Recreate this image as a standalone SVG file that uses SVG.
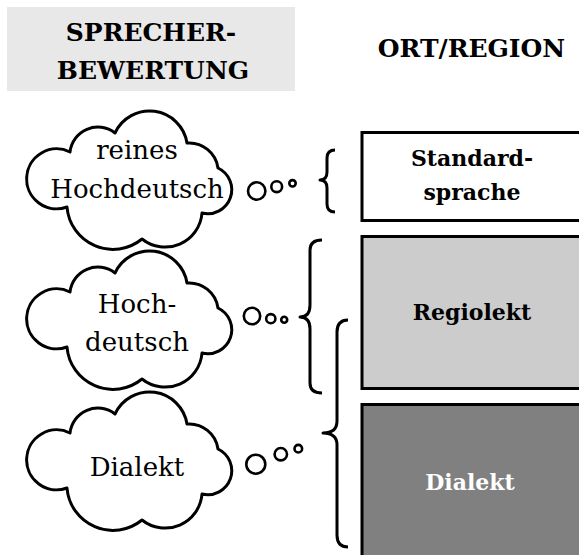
<svg xmlns="http://www.w3.org/2000/svg" xmlns:xlink="http://www.w3.org/1999/xlink" width="579" height="555" viewBox="0 0 579 555">
<style>
.hdr{font-family:"DejaVu Serif","Liberation Serif",serif;font-weight:bold;font-size:25px;fill:#000;text-anchor:middle}
.cl{font-family:"DejaVu Serif","Liberation Serif",serif;font-size:26px;fill:#000;text-anchor:middle}
.bx{font-family:"DejaVu Serif","Liberation Serif",serif;font-weight:bold;font-size:22px;text-anchor:middle}
.cloud{fill:#fff;stroke:#000;stroke-width:3;stroke-linejoin:round}
.bub{fill:none;stroke:#000;stroke-width:2.6}
.brace{fill:none;stroke:#000;stroke-width:3;stroke-linecap:butt;stroke-linejoin:round}
.box{stroke:#000;stroke-width:3}
</style>
<defs>
<path id="cloudShape" d="M42,40 A28,28 0 0 1 87,21 A38,38 0 0 1 159,31 A29,29 0 0 1 190,56 A24,24 0 0 1 174,101 A37,37 0 0 1 114,127 A46,46 0 0 1 39,95 A30,30 0 1 1 42,40 Z"/>
</defs>

<g id="header-left">
<rect x="7" y="7" width="288" height="84" fill="#e8e8e8"/>
<text class="hdr" x="151" y="41">SPRECHER-</text>
<text class="hdr" x="153" y="79">BEWERTUNG</text>
</g>
<g id="header-right">
<text class="hdr" x="471.5" y="57">ORT/REGION</text>
</g>

<g id="cloud1">
<use xlink:href="#cloudShape" class="cloud" transform="translate(28,112)"/>
<text class="cl" x="137" y="159">reines</text>
<text class="cl" x="137" y="198">Hochdeutsch</text>
</g>
<g id="cloud2">
<use xlink:href="#cloudShape" class="cloud" transform="translate(28,252)"/>
<text class="cl" x="137" y="313">Hoch-</text>
<text class="cl" x="137" y="351">deutsch</text>
</g>
<g id="cloud3">
<use xlink:href="#cloudShape" class="cloud" transform="translate(28,393)"/>
<text class="cl" x="137" y="476">Dialekt</text>
</g>

<g id="box-standard">
<rect class="box" x="362" y="132.5" width="240" height="88" fill="#fff"/>
<text class="bx" x="472" y="166" fill="#000">Standard-</text>
<text class="bx" x="472" y="200" fill="#000">sprache</text>
</g>
<g id="box-regiolekt">
<rect class="box" x="362" y="236.5" width="240" height="152" fill="#cccccc"/>
<text class="bx" x="472" y="320" fill="#000">Regiolekt</text>
</g>
<g id="box-dialekt">
<rect class="box" x="362" y="404.5" width="240" height="200" fill="#808080"/>
<text class="bx" x="470" y="490" fill="#fff">Dialekt</text>
</g>

<g id="connectors">
<circle class="bub" cx="256.7" cy="191" r="8.7"/>
<circle class="bub" cx="276.7" cy="186.7" r="5.4"/>
<circle class="bub" cx="292.5" cy="183.3" r="3.2"/>

<circle class="bub" cx="252" cy="316" r="8.2"/>
<circle class="bub" cx="270.8" cy="318.7" r="4.6"/>
<circle class="bub" cx="284.2" cy="319.7" r="3"/>

<circle class="bub" cx="255.8" cy="464.2" r="9.5"/>
<circle class="bub" cx="280.8" cy="454.2" r="6.2"/>
<circle class="bub" cx="298.3" cy="448.7" r="3.8"/>

<path class="brace" d="M335,150 Q327,150 327,158 L327,172 Q327,180 320,180 Q327,180 327,188 L327,204 Q327,212 335,212"/>
<path class="brace" d="M322,240 Q310,240 310,250 L310,305 Q310,317 300,317 Q310,317 310,329 L310,383 Q310,393 322,393"/>
<path class="brace" d="M348,320 Q337,320 337,332 L337,421 Q337,433 323,433 Q337,433 337,445 L337,535 Q337,547 348,547"/>
</g>
</svg>
